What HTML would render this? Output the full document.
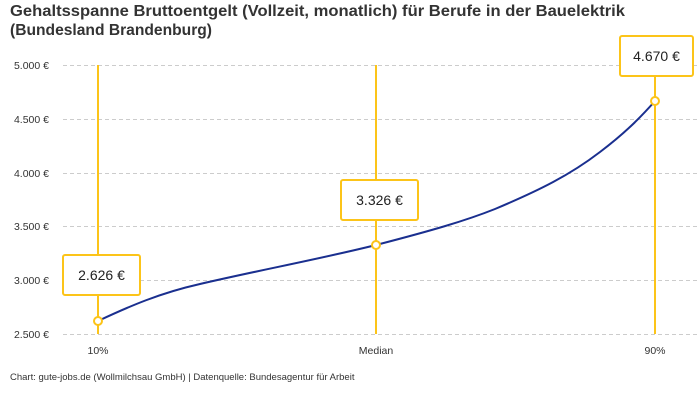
<!DOCTYPE html>
<html><head><meta charset="utf-8"><style>
body{margin:0;background:#fff;width:700px;height:400px;overflow:hidden;font-family:"Liberation Sans",sans-serif}
</style></head><body>
<svg width="700" height="400" xmlns="http://www.w3.org/2000/svg" font-family="Liberation Sans, sans-serif">
<text x="10" y="16" font-size="16" font-weight="bold" fill="#333" textLength="615" lengthAdjust="spacingAndGlyphs">Gehaltsspanne Bruttoentgelt (Vollzeit, monatlich) für Berufe in der Bauelektrik</text>
<text x="10" y="35" font-size="16" font-weight="bold" fill="#333" textLength="202" lengthAdjust="spacingAndGlyphs">(Bundesland Brandenburg)</text>
<g stroke="#ccc" stroke-dasharray="4,3" stroke-width="1">
<line x1="63" x2="700" y1="65.5" y2="65.5"/><line x1="63" x2="700" y1="119.5" y2="119.5"/><line x1="63" x2="700" y1="173.5" y2="173.5"/><line x1="63" x2="700" y1="226.5" y2="226.5"/><line x1="63" x2="700" y1="280.5" y2="280.5"/><line x1="63" x2="700" y1="334.5" y2="334.5"/>
</g>
<g font-size="10.5" fill="#333" text-anchor="end">
<text x="49" y="69">5.000 €</text><text x="49" y="123">4.500 €</text><text x="49" y="177">4.000 €</text><text x="49" y="230">3.500 €</text><text x="49" y="284">3.000 €</text><text x="49" y="338">2.500 €</text>
</g>
<g font-size="10.5" fill="#333" text-anchor="middle">
<text x="98" y="354">10%</text><text x="376" y="354">Median</text><text x="655" y="354">90%</text>
</g>
<g stroke="#fcc419" stroke-width="2">
<line x1="98" x2="98" y1="65" y2="334"/><line x1="376" x2="376" y1="65" y2="334"/><line x1="655" x2="655" y1="76" y2="334"/>
</g>
<path d="M98,321 C130,306 160,293 200,284 C260,270 320,259 376,245 C430,231 465,221 495,209 C540,190 570,175 600,152 C625,133 640,118 655,101" fill="none" stroke="#1a2f8f" stroke-width="2"/>
<g fill="#fff" stroke="#fcc419" stroke-width="2">
<circle cx="98" cy="321" r="4"/><circle cx="376" cy="245" r="4"/><circle cx="655" cy="101" r="4"/>
<rect x="63" y="255" width="77" height="40" rx="2"/><rect x="341" y="180" width="77" height="40" rx="2"/><rect x="620" y="36" width="73" height="40" rx="2"/>
</g>
<g font-size="14" fill="#222" text-anchor="middle">
<text x="101.5" y="280">2.626 €</text><text x="379.5" y="205">3.326 €</text><text x="656.5" y="61">4.670 €</text>
</g>
<text x="10" y="380" font-size="9.5" fill="#333">Chart: gute-jobs.de (Wollmilchsau GmbH) | Datenquelle: Bundesagentur für Arbeit</text>
</svg>
</body></html>
